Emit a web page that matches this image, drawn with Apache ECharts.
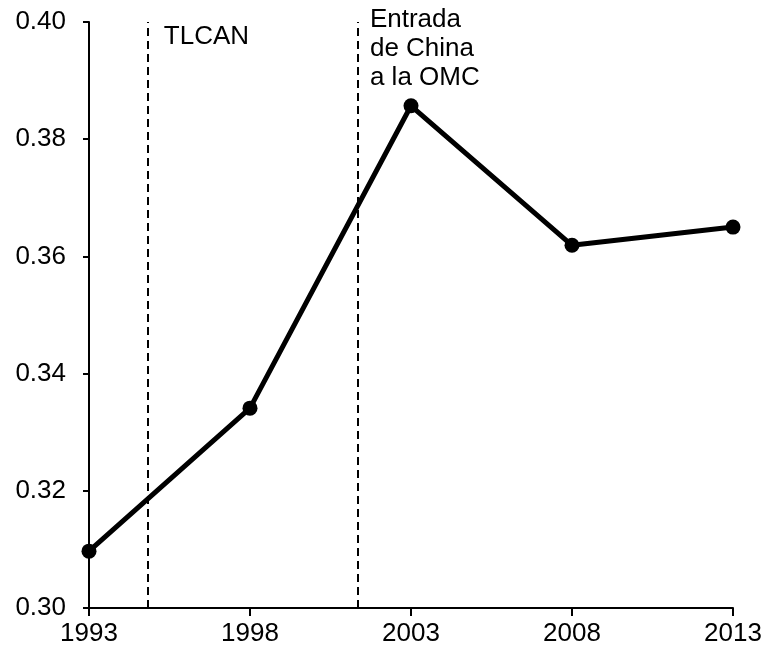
<!DOCTYPE html>
<html><head><meta charset="utf-8">
<script src="https://cdn.jsdelivr.net/npm/echarts@6/dist/echarts.min.js"></script>
<style>html,body{margin:0;padding:0;background:#fff}#c{width:771px;height:656px}</style>
</head><body><div id="c"></div>
<script>
const years = [1993, 1998, 2003, 2008, 2013];
const values = [0.3097, 0.3341, 0.3857, 0.3619, 0.3650];
const eventYears = [1994.83, 2001.35];
const eventLabels = ['TLCAN', 'Entrada\nde China\na la OMC'];
const eventLabelPos = [[1995.2, 0.3975], [2001.6, 0.3955]];

const chart = echarts.init(document.getElementById('c'));
const font = 'Liberation Sans, Arial, sans-serif';
const lbl = {color: '#000', opacity: 1, fontSize: 26, fontFamily: font, lineHeight: 29, align: 'left'};
chart.setOption({
  animation: false,
  grid: {left: 89, right: 38, top: 22, bottom: 48},
  xAxis: {
    type: 'value', min: 1993, max: 2013, interval: 5,
    splitLine: {show: false},
    axisLine: {lineStyle: {color: '#000', width: 2}},
    axisTick: {show: true, length: 8, lineStyle: {color: '#000', width: 2}},
    axisLabel: {color: '#000', fontSize: 26, fontFamily: font, margin: 13, formatter: v => String(v)}
  },
  yAxis: {
    type: 'value', min: 0.30, max: 0.40, interval: 0.02,
    splitLine: {show: false},
    axisLine: {show: true, lineStyle: {color: '#000', width: 2}},
    axisTick: {show: true, length: 6, lineStyle: {color: '#000', width: 2}},
    axisLabel: {color: '#000', fontSize: 26, fontFamily: font, margin: 23, formatter: v => v.toFixed(2)}
  },
  series: [
    {
      type: 'line',
      data: years.map((y, i) => [y, values[i]]),
      symbol: 'circle', symbolSize: 15,
      itemStyle: {color: '#000'},
      lineStyle: {color: '#000', width: 5},
      markLine: {
        silent: true, symbol: 'none', label: {show: false},
        lineStyle: {color: '#000', type: [8, 5], width: 2},
        data: eventYears.map(x => ({xAxis: x}))
      }
    },
    {
      type: 'scatter',
      symbolSize: 0,
      silent: true,
      clip: false,
      itemStyle: {opacity: 1, color: '#000'},
      data: eventLabelPos.map((p, i) => ({value: p, label: Object.assign({show: true, position: 'right', distance: 4, formatter: eventLabels[i]}, lbl)})),
      label: Object.assign({show: true, position: 'right', distance: 4}, lbl)
    }
  ]
});
</script></body></html>
